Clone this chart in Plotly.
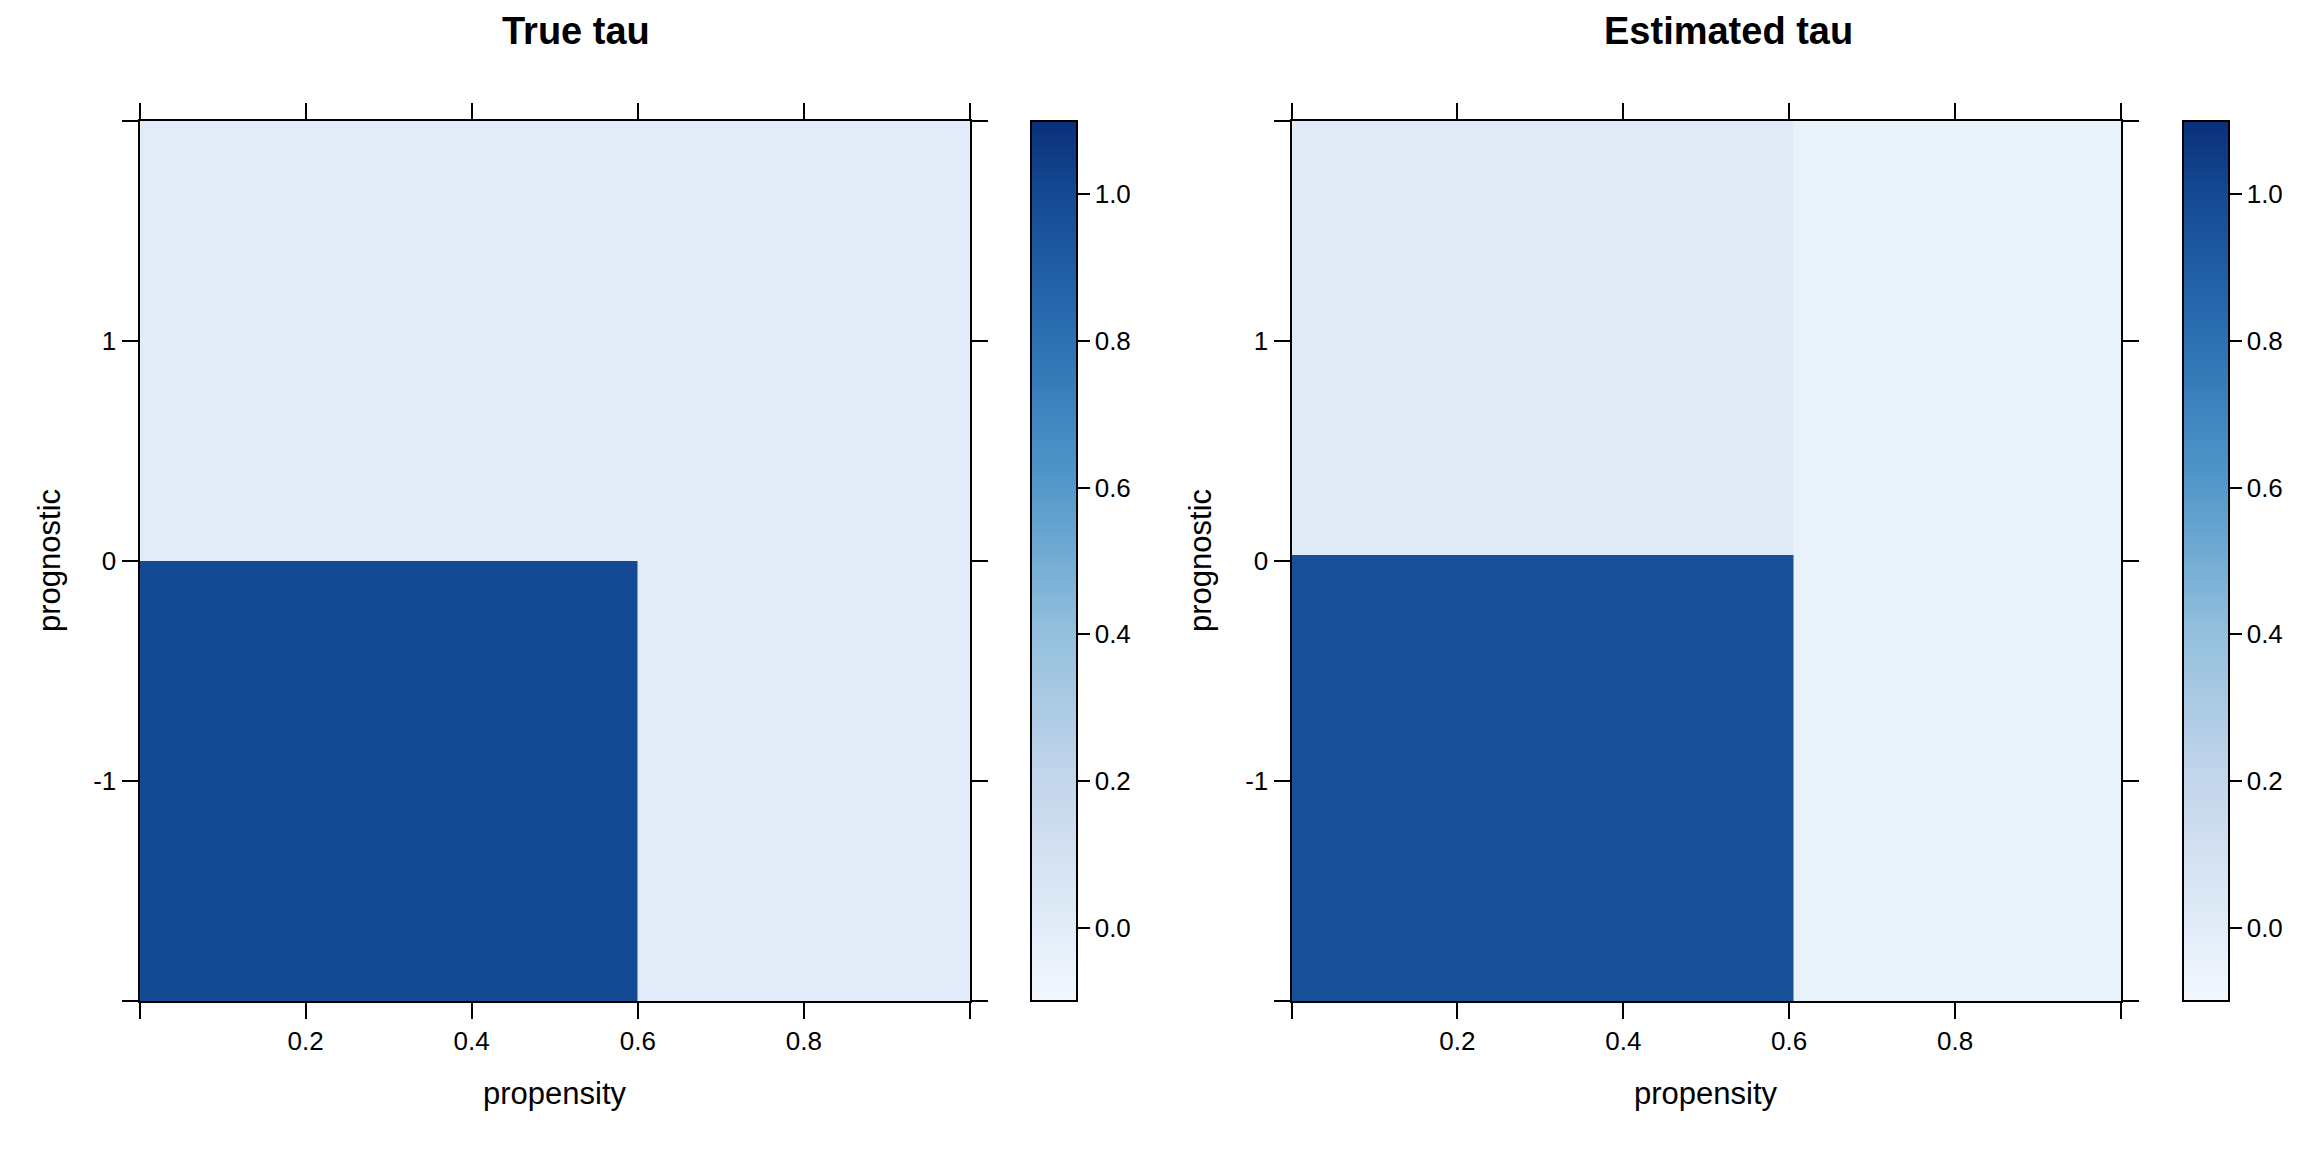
import plotly.graph_objects as go

# cell edges and values
x_edges_true = [0, 0.6, 1]
y_edges_true = [-2, 0, 2]
tau_true = [[1.0, 0.0],
            [0.0, 0.0]]

x_edges_est = [0, 0.605, 1]
y_edges_est = [-2, 0.027, 2]
tau_est = [[0.97, -0.04],
           [0.005, -0.04]]

x_ticks = [0, 0.2, 0.4, 0.6, 0.8, 1]
x_ticktext = ["", "0.2", "0.4", "0.6", "0.8", ""]
y_ticks = [-2, -1, 0, 1, 2]
y_ticktext = ["", "-1", "0", "1", ""]
cb_ticks = [0.0, 0.2, 0.4, 0.6, 0.8, 1.0]

blues = [[0.0, "#F3F8FE"], [0.0833, "#E2ECF8"], [0.25, "#C4D6EC"],
         [0.4167, "#94C0DD"], [0.5833, "#5499CB"], [0.75, "#2C71B3"],
         [0.9167, "#144A93"], [1.0, "#0B2F7A"]]

# page body adds an 8px margin, so the figure is a bit smaller and shifted
PAD = 8
W, H = 2304 - 2 * PAD, 1152 - 2 * PAD
FONT = "Liberation Sans, Arial, sans-serif"

def px_x(p):
    return (p - PAD) / W

def px_y(p):
    return 1 - (p - PAD) / H

def colorbar(left):
    return dict(
        x=px_x(left), xanchor="left", xpad=0, ypad=0,
        y=px_y(561), yanchor="middle", len=880 / H, lenmode="fraction",
        thickness=46, thicknessmode="pixels",
        outlinecolor="black", outlinewidth=2,
        tickvals=cb_ticks, tickformat=".1f", ticks="outside",
        ticklen=12, tickwidth=2, tickcolor="black",
        tickfont=dict(family=FONT, size=26, color="black"),
    )

fig = go.Figure()
fig.add_trace(go.Heatmap(
    x=x_edges_true, y=y_edges_true, z=tau_true,
    colorscale=blues, zmin=-0.1, zmax=1.1,
    colorbar=colorbar(1031), xaxis="x", yaxis="y", hoverinfo="skip"))
fig.add_trace(go.Heatmap(
    x=x_edges_est, y=y_edges_est, z=tau_est,
    colorscale=blues, zmin=-0.1, zmax=1.1,
    colorbar=colorbar(2183), xaxis="x2", yaxis="y2", hoverinfo="skip"))

axis_common = dict(
    showline=True, linecolor="black", linewidth=2, mirror="ticks",
    ticks="outside", ticklen=16, tickwidth=2, tickcolor="black",
    showgrid=False, zeroline=False, automargin=False,
    tickfont=dict(family=FONT, size=26, color="black"),
)

fig.update_layout(
    width=W, height=H,
    margin=dict(l=0, r=0, t=0, b=0),
    paper_bgcolor="white", plot_bgcolor="white",
    showlegend=False,
    xaxis=dict(domain=[px_x(139.5), px_x(970)], range=[0, 1], anchor="y",
               tickvals=x_ticks, ticktext=x_ticktext, **axis_common),
    yaxis=dict(domain=[px_y(1001), px_y(121)], range=[-2, 2], anchor="x",
               tickvals=y_ticks, ticktext=y_ticktext, **axis_common),
    xaxis2=dict(domain=[px_x(1291.5), px_x(2121)], range=[0, 1], anchor="y2",
                tickvals=x_ticks, ticktext=x_ticktext, **axis_common),
    yaxis2=dict(domain=[px_y(1001), px_y(121)], range=[-2, 2], anchor="x2",
                tickvals=y_ticks, ticktext=y_ticktext, **axis_common),
)

def label(text, x, y, size, angle=0):
    fig.add_annotation(
        text=text, x=px_x(x), y=px_y(y), xref="paper", yref="paper",
        showarrow=False, xanchor="center", yanchor="middle", textangle=angle,
        font=dict(family=FONT, size=size, color="black"))

# panel titles and axis titles
label("<b>True tau</b>", 576, 31, 38)
label("<b>Estimated tau</b>", 1728, 31, 38)
label("propensity", 555, 1093, 31)
label("propensity", 1706, 1093, 31)
label("prognostic", 50, 561, 31, angle=-90)
label("prognostic", 1201, 561, 31, angle=-90)

fig.write_html("out.html")
